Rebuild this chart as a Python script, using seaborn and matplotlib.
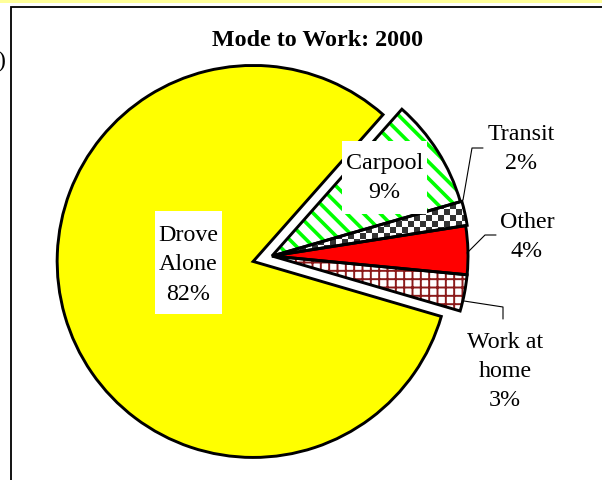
import numpy as np
import matplotlib
matplotlib.use("Agg")
import matplotlib.pyplot as plt
from matplotlib.patches import Rectangle
import seaborn as sns

# Commute mode shares, 2000
modes = ["Drove Alone", "Carpool", "Transit", "Other", "Work at home"]
shares = [82, 9, 2, 4, 3]
label_text = ["Drove\nAlone", "Carpool", "Transit", "Other", "Work at\nhome"]

fill_colors = ["#FFFF00", "#FFFFFF", "#FFFFFF", "#FF0000", "#FFFFFF"]
hatch_colors = ["none", "#00FF00", "none", "none", "#8B1A1A"]
hatches = [None, "\\\\", None, None, "++"]
hatch_widths = [0, 2.6, 0, 0, 1.4]

sns.set_theme(style="white")
plt.rcParams["font.family"] = ["Liberation Serif", "DejaVu Serif"]
plt.rcParams["text.color"] = "black"

W, H = 602, 481
fig = plt.figure(figsize=(W / 100, H / 100), dpi=100)
ax = fig.add_axes([0, 0, 1, 1])


def py(y):
    """Convert a top-down pixel row to the axes' bottom-up coordinate."""
    return H - y


center = (272, py(257))
radius = 196
start = -16.3
# pie() offsets exploded wedges in data units, so scale by the radius
explode = [f * radius for f in (0.1, 0, 0.008, 0, 0)]

# Fill layer: colours and hatch patterns
fills, _ = ax.pie(shares, explode=explode, startangle=start, counterclock=False,
                  center=center, radius=radius, colors=fill_colors,
                  wedgeprops=dict(linewidth=0))
for w, hc, ht, hw in zip(fills, hatch_colors, hatches, hatch_widths):
    w.set_zorder(1)
    if ht:
        w.set_hatch(ht)
        w.set_edgecolor(hc)
        if hasattr(w, "set_hatch_linewidth"):
            w.set_hatch_linewidth(hw)
        else:
            w._hatch_linewidth = hw

# Checkerboard pattern for transit, clipped to its wedge
cell = 6
jj, ii = np.indices((H, W))
checker = ((ii // cell + jj // cell) % 2).astype(float)
cmap = matplotlib.colors.ListedColormap(["#FFFFFF", "#333333"])
img = ax.imshow(checker, extent=(0, W, 0, H), origin="upper", cmap=cmap,
                interpolation="nearest", zorder=2)
img.set_clip_path(fills[modes.index("Transit")])

# Outline layer
outlines, _ = ax.pie(shares, explode=explode, startangle=start, counterclock=False,
                     center=center, radius=radius,
                     wedgeprops=dict(facecolor="none", edgecolor="black", linewidth=2.1))
for w in outlines:
    w.set_zorder(3)

ax.set_xlim(0, W)
ax.set_ylim(0, H)
ax.set_aspect("auto")
ax.axis("off")

# Chart frame and page strip
ax.add_patch(Rectangle((0, py(3.5)), W, 3.5, facecolor="#FFFF99", edgecolor="none", zorder=0))
ax.plot([11, 11, W], [0, py(8), py(8)], color="black", lw=1.3, zorder=5,
        solid_joinstyle="miter")
ax.text(5, py(61), ")", ha="right", va="center", fontsize=17, zorder=5)

ax.text(318, py(41), "Mode to Work: 2000", ha="center", va="center",
        fontsize=17.3, fontweight="bold", zorder=5)

fs = 17.3
ls = 1.5
labels = [f"{t}\n{v}%" for t, v in zip(label_text, shares)]

# Boxed labels inside the pie
ax.add_patch(Rectangle((155, py(315)), 67, 103, facecolor="white", edgecolor="none", zorder=4))
ax.text(188.5, py(265), labels[0], ha="center", va="center", fontsize=fs,
        linespacing=ls, zorder=5)
ax.add_patch(Rectangle((342, py(215)), 85, 73, facecolor="white", edgecolor="none", zorder=4))
ax.text(384.5, py(178), labels[1], ha="center", va="center", fontsize=fs,
        linespacing=ls, zorder=5)

# Outside labels with leader lines
ax.text(521, py(149), labels[2], ha="center", va="center", fontsize=fs,
        linespacing=ls, zorder=5)
ax.plot([463, 472, 483], [py(201), py(149), py(149)], color="black", lw=0.8, zorder=5)

ax.text(527, py(237), labels[3], ha="center", va="center", fontsize=fs,
        linespacing=ls, zorder=5)
ax.plot([467, 485, 496], [py(254), py(236), py(236)], color="black", lw=0.8, zorder=5)

ax.text(505, py(372), labels[4], ha="center", va="center", fontsize=fs,
        linespacing=ls, zorder=5)
ax.plot([464, 503, 503], [py(302), py(308), py(320)], color="black", lw=0.8, zorder=5)

fig.savefig("out.png", dpi=100, facecolor="white")
